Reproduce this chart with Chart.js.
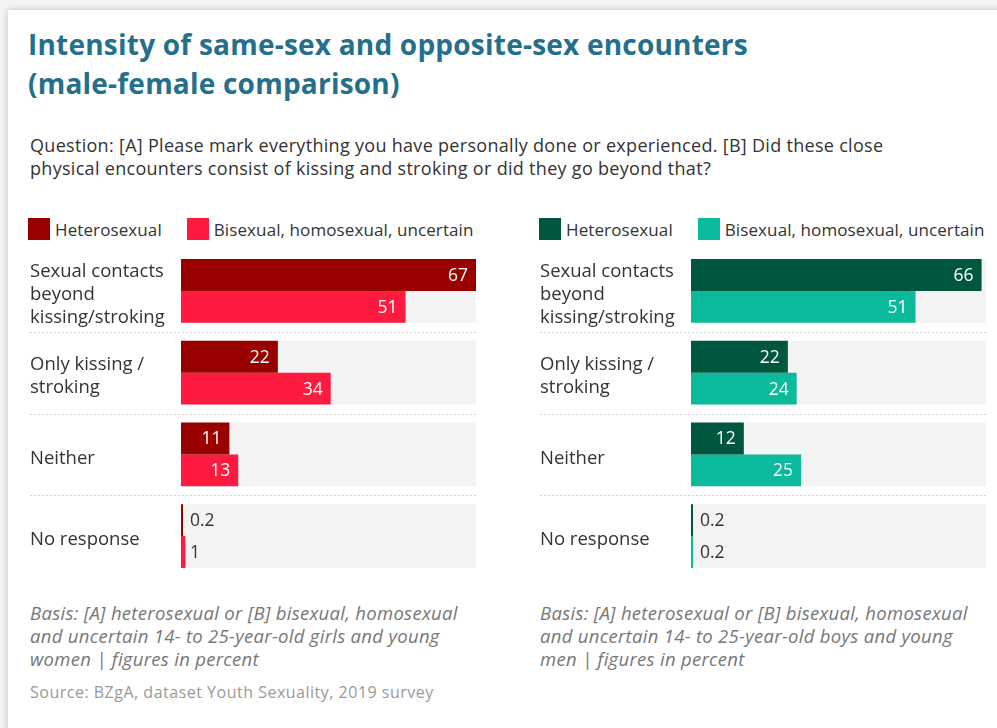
<!DOCTYPE html>
<html>
<head>
<meta charset="utf-8">
<script src="https://cdn.jsdelivr.net/npm/chart.js@4/dist/chart.umd.min.js"></script>
<style>
  html, body { margin: 0; padding: 0; background: #f4f4f4; width: 997px; height: 728px; overflow: hidden; font-family: "Open Sans", sans-serif; }
  .card { position: absolute; left: 8px; top: 10px; width: 1010px; height: 740px; background: #fff; box-shadow: 0 0 7px rgba(0,0,0,0.22); }
  .title { position: absolute; left: 28px; top: 25px; margin: 0; font-size: 28px; line-height: 39px; font-weight: 700; color: #246f8c; letter-spacing: 0.22px; white-space: nowrap; }
  .question { position: absolute; left: 30px; top: 134px; font-size: 18px; line-height: 23px; letter-spacing: 0.3px; color: #333; white-space: nowrap; }
  .legend { position: absolute; top: 218px; height: 22px; display: flex; align-items: center; font-size: 17px; letter-spacing: 0.1px; color: #333; white-space: nowrap; }
  .legend span.box { display: inline-block; width: 22px; height: 22px; margin-right: 5px; }
  .legend span.item { display: flex; align-items: center; margin-right: 25px; }
  .wrap { position: absolute; top: 245px; width: 460px; height: 340px; }
  .basis { position: absolute; top: 601px; font-size: 18.5px; line-height: 23px; letter-spacing: 0.3px; color: #777; font-style: italic; white-space: nowrap; }
  .source { position: absolute; left: 30px; top: 681px; font-size: 16px; letter-spacing: 0.5px; color: #999; white-space: nowrap; }
</style>
</head>
<body>
<div class="card"></div>
<h1 class="title">Intensity of same-sex and opposite-sex encounters<br>(male-female comparison)</h1>
<div class="question">Question: [A] Please mark everything you have personally done or experienced. [B] Did these close<br>physical encounters consist of kissing and stroking or did they go beyond that?</div>
<div class="legend" id="legend-f" style="left:28px"></div>
<div class="legend" id="legend-m" style="left:539px"></div>
<div class="wrap" style="left:20px"><canvas id="chart-f"></canvas></div>
<div class="wrap" style="left:530px"><canvas id="chart-m"></canvas></div>
<div class="basis" style="left:30px">Basis: [A] heterosexual or [B] bisexual, homosexual<br>and uncertain 14- to 25-year-old girls and young<br>women | figures in percent</div>
<div class="basis" style="left:540px">Basis: [A] heterosexual or [B] bisexual, homosexual<br>and uncertain 14- to 25-year-old boys and young<br>men | figures in percent</div>
<div class="source">Source: BZgA, dataset Youth Sexuality, 2019 survey</div>

<script>
// Daten
const categories = [
  ['Sexual contacts', 'beyond', 'kissing/stroking'],
  ['Only kissing /', 'stroking'],
  ['Neither'],
  ['No response']
];
const seriesNames = ['Heterosexual', 'Bisexual, homosexual, uncertain'];
const femaleHetero = [67, 22, 11, 0.2];
const femaleOther = [51, 34, 13, 1];
const maleHetero = [66, 22, 12, 0.2];
const maleOther = [51, 24, 25, 0.2];
const femaleColors = ['#990000', '#ff1a40'];
const maleColors = ['#00573f', '#0aba9b'];
const axisMax = 67;

// grey track + dotted separators behind the bars
const trackPlugin = {
  id: 'track',
  beforeDatasetsDraw(chart) {
    const { ctx, scales: { x, y } } = chart;
    const step = y.getPixelForValue(1) - y.getPixelForValue(0);
    const half = step * 0.78 / 2;
    ctx.save();
    ctx.fillStyle = '#f3f3f3';
    categories.forEach((c, i) => {
      const cy = y.getPixelForValue(i);
      ctx.fillRect(x.getPixelForValue(0), cy - half, x.getPixelForValue(axisMax) - x.getPixelForValue(0), half * 2);
    });
    ctx.strokeStyle = '#cfcfcf';
    ctx.lineWidth = 1;
    ctx.setLineDash([2, 2]);
    for (let i = 0; i < categories.length - 1; i++) {
      const sy = Math.round((y.getPixelForValue(i) + y.getPixelForValue(i + 1)) / 2) + 0.5;
      ctx.beginPath();
      ctx.moveTo(y.left, sy);
      ctx.lineTo(x.getPixelForValue(axisMax), sy);
      ctx.stroke();
    }
    ctx.restore();
  }
};

// value labels at bar ends
const valuePlugin = {
  id: 'values',
  afterDatasetsDraw(chart) {
    const { ctx } = chart;
    ctx.save();
    ctx.font = '17.5px "Open Sans", sans-serif';
    ctx.textBaseline = 'middle';
    chart.data.datasets.forEach((ds, di) => {
      chart.getDatasetMeta(di).data.forEach((bar, i) => {
        const v = ds.data[i];
        const txt = String(v);
        if (v < 5) {
          ctx.fillStyle = '#333';
          ctx.textAlign = 'left';
          ctx.fillText(txt, bar.base + 9, bar.y + 1);
        } else {
          ctx.fillStyle = '#fff';
          ctx.textAlign = 'right';
          ctx.fillText(txt, bar.x - 8, bar.y + 1);
        }
      });
    });
    ctx.restore();
  }
};

function makeLegend(id, colors) {
  document.getElementById(id).innerHTML = seriesNames.map((n, i) =>
    `<span class="item"><span class="box" style="background:${colors[i]}"></span>${n}</span>`).join('');
}

function makeChart(id, hetero, other, colors) {
  return new Chart(document.getElementById(id), {
    type: 'bar',
    data: {
      labels: categories,
      datasets: [
        { label: seriesNames[0], data: hetero, backgroundColor: colors[0] },
        { label: seriesNames[1], data: other, backgroundColor: colors[1] }
      ]
    },
    options: {
      indexAxis: 'y',
      responsive: true,
      maintainAspectRatio: false,
      animation: false,
      layout: { padding: { left: 10, right: 4, top: 5, bottom: 8 } },
      datasets: { bar: { barPercentage: 1, categoryPercentage: 0.78, minBarLength: 2 } },
      plugins: { legend: { display: false }, tooltip: { enabled: false } },
      scales: {
        x: { display: false, min: 0, max: axisMax },
        y: {
          grid: { display: false },
          border: { display: false },
          ticks: { crossAlign: 'far', padding: 0, labelOffset: 4, color: '#333', font: { family: '"Open Sans", sans-serif', size: 18.5, lineHeight: 1.243 } },
          afterFit(scale) {
            scale.width = 151;
            // labels stay inside their bands, no extra room needed
            scale.paddingTop = 0;
            scale.paddingBottom = 0;
          }
        }
      }
    },
    plugins: [trackPlugin, valuePlugin]
  });
}

makeLegend('legend-f', femaleColors);
makeLegend('legend-m', maleColors);
makeChart('chart-f', femaleHetero, femaleOther, femaleColors);
makeChart('chart-m', maleHetero, maleOther, maleColors);
</script>
</body>
</html>
